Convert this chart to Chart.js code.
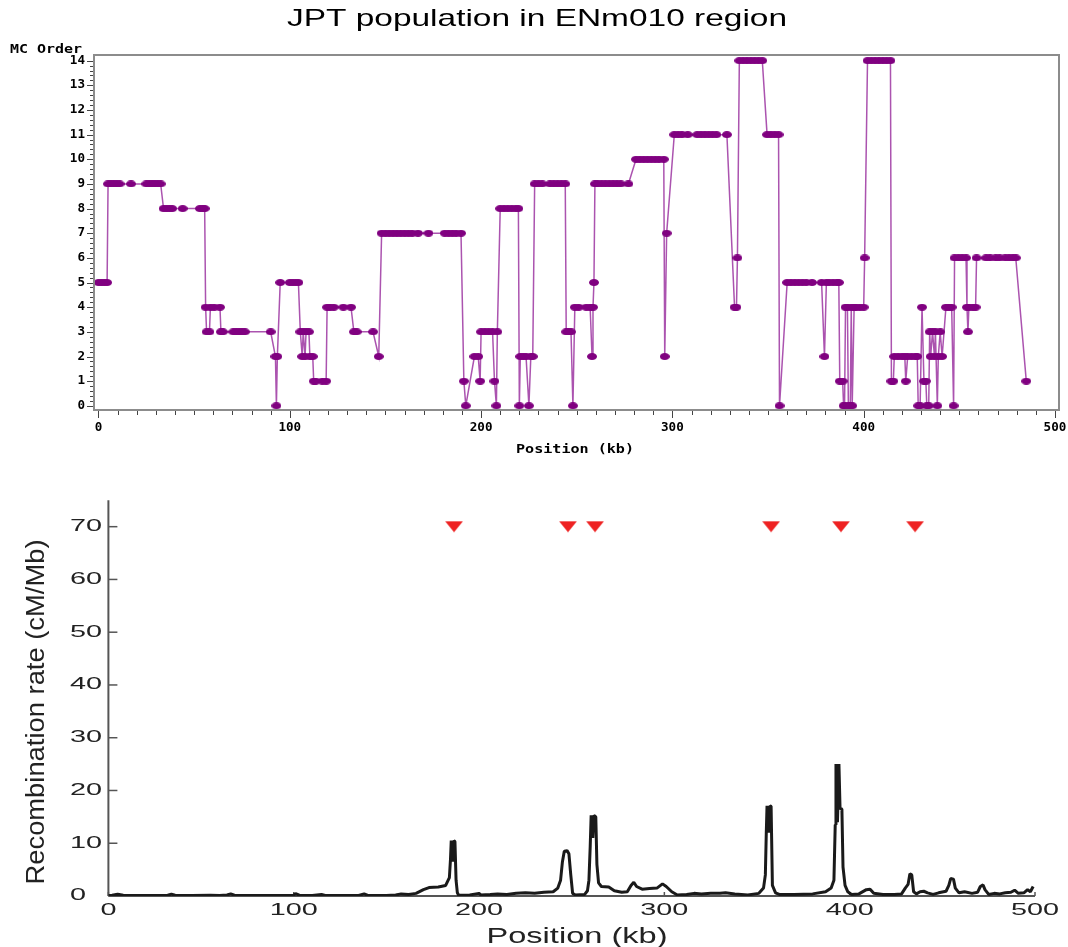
<!DOCTYPE html>
<html><head><meta charset="utf-8">
<script src="https://cdn.jsdelivr.net/npm/chart.js@4.4.0/dist/chart.umd.min.js"></script>
<style>
html,body{margin:0;padding:0;background:#fff;width:1068px;height:947px;overflow:hidden}
canvas{position:absolute;left:0}
#c1{top:0}
#c2{top:470px}
</style></head><body>
<canvas id="c1" width="1068" height="470"></canvas>
<canvas id="c2" width="1068" height="477"></canvas>
<script>
// ---------- text ----------
const titleText = 'JPT population in ENm010 region';
const topYTitle = 'MC Order';
const topXTitle = 'Position (kb)';
const bottomYTitle = 'Recombination rate (cM/Mb)';
const bottomXTitle = 'Position (kb)';

// ---------- tick labels ----------
const topXTicks = [0, 100, 200, 300, 400, 500];
const topYTicks = [0, 1, 2, 3, 4, 5, 6, 7, 8, 9, 10, 11, 12, 13, 14];
const bottomXTicks = [0, 100, 200, 300, 400, 500];
const bottomYTicks = [0, 10, 20, 30, 40, 50, 60, 70];

// ---------- top panel: MC order by position (kb) ----------
const mcPositions = [
 0,1.5,3,4.5, 5,6.5,8,9.5,11, 17, 25,26.5,28,29.5,31,32.5, 34,35.5,37,38.5, 44, 53,54.5,55.5,
 56,56.5,58,58.5,60.5,63.5,64,65, 70.5,72,73.5,75,76.5, 90,92.5,93,93.5,95,
 100,101.5,103,104.5, 105.5,106.5,107,108,108.5,110,110.5,112,112.5,113.5,117,119,119.5,121,123,128,132,
 133.5,135,143.5,146.5,
 148,150,152,154,156,158,160,162,164,167,172.5,181,183,185,187,189.5,
 191,192,196.5,198.5,199.5,200,202,204,206,207,208,208.5,210,212,214,216,218,219.5,
 220,220.5,222,223.5,225,226,227,228,230,232,236,238,240,242,244,
 244.5,245.5,247,248,249,251,255,257,258,258.5,259,259.5,261,263,265,267,269,271,273,277,
 281,283,285,287,289,291,293,295.5,
 296,297,301,303,305,308,313,315,317,319,321,323,328.5,
 332.5,333.5,334,335,337,339,341,343,345,347,
 349.5,351.5,353.5,355.5,356,
 360,362,364,366,368,370,373,378,379.5,380.5,382,384,386,387,
 387.5,389,389.5,390,390.5,391.5,392,393,393.5,394,395,396,398,400,400.5,
 402,404,406,408,410,412,414,
 414.5,415.5,416,418,420,421.5,422,423,425,427,428,
 428.5,429.5,430.5,431.5,432.5,433,434,434.5,435,436,437,437.5,438.5,439,440,441,
 443,444.5,446,447,447.5,449.5,451.5,453.5,454,454.5,455,457,458.5,459,464,466,469,471,474,476,478,479.5,485
];
const mcOrder = [
 5,5,5,5, 9,9,9,9,9, 9, 9,9,9,9,9,9, 8,8,8,8, 8, 8,8,8,
 4,3,3,4,4,4,3,3, 3,3,3,3,3, 3,2,0,2,5,
 5,5,5,5, 3,2,3,2,3,3,2,2,1,1,1,1,4,4,4,4,4,
 3,3,3,2,
 7,7,7,7,7,7,7,7,7,7,7,7,7,7,7,7,
 1,0,2,2,1,3,3,3,3,1,0,3,8,8,8,8,8,8,
 0,2,2,2,0,2,2,9,9,9,9,9,9,9,9,
 3,3,3,0,4,4,4,4,2,4,5,9,9,9,9,9,9,9,9,9,
 10,10,10,10,10,10,10,10,
 2,7,11,11,11,11,11,11,11,11,11,11,11,
 4,4,6,14,14,14,14,14,14,14,
 11,11,11,11,0,
 5,5,5,5,5,5,5,5,2,5,5,5,5,5,
 1,1,0,0,4,4,0,0,4,0,4,4,4,4,6,
 14,14,14,14,14,14,14,
 1,1,2,2,2,2,1,2,2,2,2,
 0,0,4,1,1,0,0,3,2,3,2,3,0,2,3,2,
 4,4,4,0,6,6,6,6,4,3,4,4,4,6,6,6,6,6,6,6,6,6,1
];

// ---------- bottom panel: recombination rate (cM/Mb) by position (kb) ----------
const recPositions = [
 0,2,5,8,15,25,32,34,36,45,55,60,64,66,68,80,95,100,101,103,110,115,117,125,135,138,140,150,155,158,162,166,
 170,173,178,182,184,184.6,185,185.8,186.4,187,187.6,188.3,189,195,200,201,206,210,215,220,225,230,235,240,
 242.5,244,245,246,247.5,248.5,249.5,250.5,252,257,258.5,259.3,260,260.5,261.4,262,263,263.6,264.5,266,270,273,
 277,280,282,283.5,285,288,292,296,299,301,304,307,312,316,320,325,330,333,338,345,351,353.5,354.5,355,355.4,
 356.3,357,357.6,358.3,360,362,370,380,387,390,391.5,392.2,392.6,393.4,394.2,394.8,395.8,396.4,397.5,399,401,405,
 409,411,413,418,424,428,430,431.5,432.5,433.5,434.5,436,438,440,442,445,448,452,453.5,454.5,456,457,459,462,
 466,469,470.5,472,473,475,478,481,484,487,489,491,494,496,497.5,499
];
const recRate = [
 0.1,0.15,0.35,0.15,0.1,0.1,0.15,0.35,0.15,0.1,0.15,0.1,0.2,0.4,0.15,0.1,0.1,0.15,0.45,0.15,0.1,0.3,0.1,0.1,0.1,0.4,0.1,0.1,0.2,0.4,0.3,0.5,
 1.2,1.6,1.7,2.0,3.5,7.0,10.5,6.5,10.5,10.3,3.0,0.6,0.15,0.2,0.5,0.2,0.3,0.4,0.3,0.5,0.6,0.5,0.7,0.8,
 1.5,3.0,6.5,8.5,8.6,8.0,4.0,0.5,0.2,0.3,1.0,3.0,9.5,15.3,11.0,15.3,15.0,6.0,2.5,1.8,1.7,1.0,
 0.7,0.8,2.0,2.6,1.8,1.3,1.4,1.5,2.3,1.8,0.8,0.2,0.3,0.5,0.4,0.5,0.5,0.6,0.4,0.2,0.5,1.5,4.0,12.0,17.1,
 12.0,17.1,17.0,2.0,0.6,0.3,0.3,0.4,0.8,1.5,3.0,13.5,25.0,14.0,25.0,16.6,16.5,5.5,2.0,0.8,0.3,0.4,
 1.2,1.3,0.5,0.3,0.3,0.4,1.5,2.2,4.2,4.0,0.8,0.4,0.8,0.9,0.6,0.3,0.6,0.9,2.0,3.3,3.2,1.5,0.6,0.8,
 0.5,0.7,1.8,2.1,1.2,0.3,0.5,0.4,0.6,0.7,1.1,0.5,0.6,1.2,0.8,1.8
];

// ---------- hotspot markers ----------
const hotspotPositions = [186.5, 248, 262.6, 357.6, 395.3, 435.3];
const hotspotLevel = [70, 70, 70, 70, 70, 70];

// ---------- helpers ----------
function fitText(ctx, text, x, y, font, opts) {
  opts = opts || {};
  ctx.save();
  ctx.font = font;
  ctx.fillStyle = opts.color || '#000';
  ctx.textBaseline = 'middle';
  ctx.textAlign = opts.align || 'center';
  const w = ctx.measureText(text).width;
  const sx = opts.width ? opts.width / w : (opts.sx || 1);
  ctx.translate(x, y);
  if (opts.angle) ctx.rotate(opts.angle);
  ctx.scale(sx, 1);
  ctx.fillText(text, 0, 0);
  ctx.restore();
}
function seg(ctx, x1, y1, x2, y2) { ctx.beginPath(); ctx.moveTo(x1, y1); ctx.lineTo(x2, y2); ctx.stroke(); }

const ellipse = document.createElement('canvas');
ellipse.width = 10; ellipse.height = 7;
(function(){ const c = ellipse.getContext('2d'); c.fillStyle = '#800080'; c.beginPath(); c.ellipse(5, 3.5, 5, 3.5, 0, 0, Math.PI*2); c.fill(); })();

const tri = document.createElement('canvas');
tri.width = 18; tri.height = 12;
(function(){ const c = tri.getContext('2d'); c.fillStyle = '#ee2222'; c.beginPath(); c.moveTo(0, 0.5); c.lineTo(18, 0.5); c.lineTo(9, 11.5); c.closePath(); c.fill(); })();

// ---------- top chart ----------
const topDecor = {
  id: 'topDecor',
  afterDraw(chart) {
    const { ctx, chartArea: a, scales: { x, y } } = chart;
    ctx.save();
    ctx.strokeStyle = '#8c8c8c'; ctx.lineWidth = 2;
    ctx.strokeRect(a.left, a.top, a.right - a.left, a.bottom - a.top);
    ctx.strokeStyle = '#444'; ctx.lineWidth = 1;
    for (let v = 0; v <= 500; v += 10) {
      const px = Math.round(x.getPixelForValue(v)) + 0.5;
      seg(ctx, px, a.bottom + 1, px, a.bottom + (v % 100 === 0 ? 8 : 5));
    }
    for (let i = 0; i <= 70; i++) {
      const py = Math.round(y.getPixelForValue(i / 5)) + 0.5;
      const len = i % 5 === 0 ? 6 : 3;
      seg(ctx, a.left - 1 - len, py, a.left - 1, py);
    }
    ctx.restore();
    const f = 'bold 12px "DejaVu Sans Mono", monospace';
    topXTicks.forEach(v => fitText(ctx, String(v), x.getPixelForValue(v), 428, f, { sx: 1.05 }));
    topYTicks.forEach(v => fitText(ctx, String(v), 85, y.getPixelForValue(v), f, { align: 'right', sx: 1.05 }));
    fitText(ctx, topYTitle, 46, 50, f, { width: 72 });
    fitText(ctx, topXTitle, 575, 450, f, { width: 118 });
    fitText(ctx, titleText, 537, 19, '24px "Liberation Sans", Arial, sans-serif', { width: 500 });
  }
};

new Chart(document.getElementById('c1'), {
  type: 'line',
  data: {
    datasets: [{
      data: mcPositions.map((p, i) => ({ x: p, y: mcOrder[i] })),
      borderColor: 'rgba(150,40,155,0.8)', borderWidth: 1.5, tension: 0, fill: false,
      pointStyle: ellipse, pointRadius: 4, pointHoverRadius: 4
    }]
  },
  options: {
    responsive: false, animation: false, events: [],
    layout: { padding: { left: 94, right: 9, top: 55, bottom: 60 } },
    plugins: { legend: { display: false }, tooltip: { enabled: false }, title: { display: false } },
    scales: {
      x: { type: 'linear', display: false, min: -2.35, max: 502.1 },
      y: { type: 'linear', display: false, min: -0.17, max: 14.23 }
    }
  },
  plugins: [topDecor]
});

// ---------- bottom chart ----------
const bottomDecor = {
  id: 'bottomDecor',
  beforeDatasetsDraw(chart) {
    const { ctx, chartArea: a, scales: { x, y } } = chart;
    ctx.save();
    ctx.strokeStyle = '#555'; ctx.lineWidth = 2;
    seg(ctx, a.left, a.top, a.left, a.bottom);
    seg(ctx, a.left, a.bottom, a.right, a.bottom);
    ctx.lineWidth = 1.5;
    bottomYTicks.forEach(v => { const py = y.getPixelForValue(v); seg(ctx, a.left, py, a.left + 9, py); });
    bottomXTicks.forEach(v => { const px = x.getPixelForValue(v); seg(ctx, px, a.bottom, px, a.bottom - 4); });
    ctx.restore();
  },
  afterDraw(chart) {
    const { ctx, chartArea: a, scales: { x, y } } = chart;
    const f = '16px "Liberation Sans", Arial, sans-serif';
    bottomYTicks.forEach(v => fitText(ctx, String(v), 70, y.getPixelForValue(v), f, { align: 'left', sx: 1.8, color: '#222' }));
    bottomXTicks.forEach(v => fitText(ctx, String(v), x.getPixelForValue(v), 441, f, { sx: 1.8, color: '#222' }));
    fitText(ctx, bottomXTitle, 577, 467, '22px "Liberation Sans", Arial, sans-serif', { width: 181, color: '#222' });
    fitText(ctx, bottomYTitle, 37, 242, '26px "Liberation Sans", Arial, sans-serif', { width: 345, angle: -Math.PI / 2, color: '#222' });
  }
};

new Chart(document.getElementById('c2'), {
  type: 'line',
  data: {
    datasets: [{
      data: recPositions.map((p, i) => ({ x: p, y: recRate[i] })),
      borderColor: '#1a1a1a', borderWidth: 3, tension: 0, fill: false,
      pointRadius: 0, borderJoinStyle: 'bevel'
    }, {
      data: hotspotPositions.map((p, i) => ({ x: p, y: hotspotLevel[i] })),
      showLine: false, pointStyle: tri, pointRadius: 6, pointHoverRadius: 6
    }]
  },
  options: {
    responsive: false, animation: false, events: [],
    layout: { padding: { left: 108.4, right: 33, top: 30.3, bottom: 51 } },
    plugins: { legend: { display: false }, tooltip: { enabled: false }, title: { display: false } },
    scales: {
      x: { type: 'linear', display: false, min: 0, max: 500 },
      y: { type: 'linear', display: false, min: 0, max: 75 }
    }
  },
  plugins: [bottomDecor]
});
</script>
</body></html>
